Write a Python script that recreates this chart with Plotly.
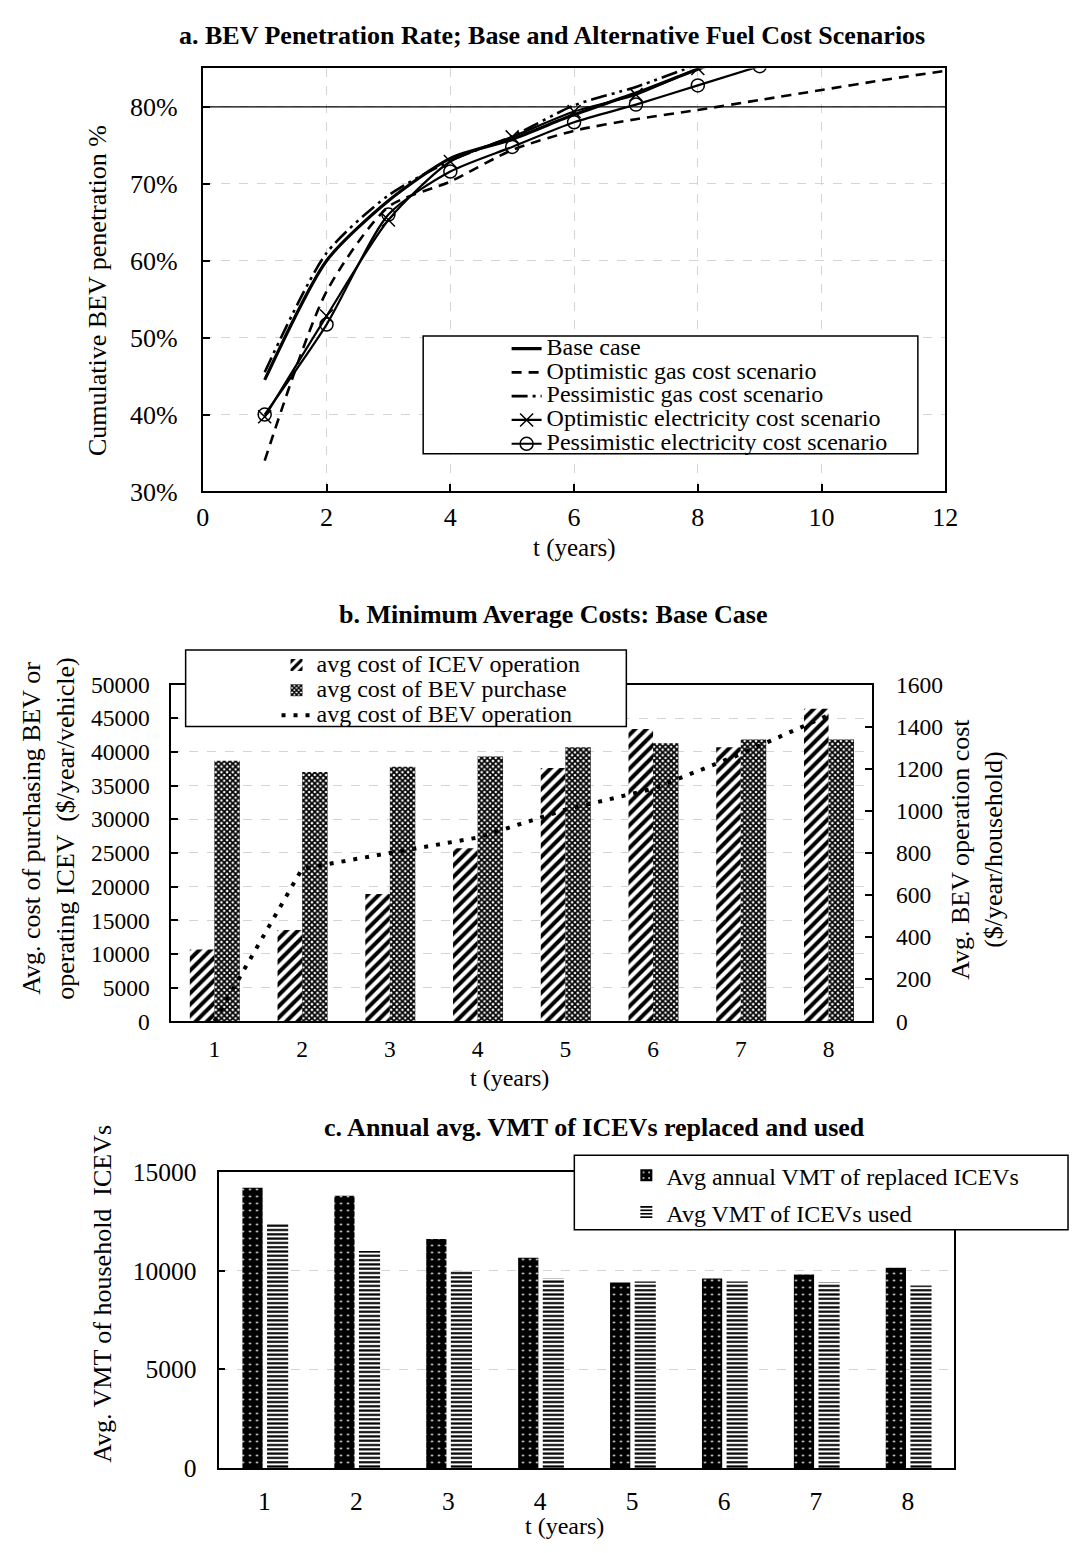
import plotly.graph_objects as go

W, H = 1083, 1553
FONT = "Liberation Serif, Times New Roman, serif"

# ---------------- data ----------------
# Panel a: cumulative BEV penetration (%)
t_a = [1, 2, 3, 4, 5, 6, 7, 8, 9]
t_a_long = [1, 2, 3, 4, 5, 6, 7, 8, 9, 10, 11, 12]
base_case = [44.5, 60.0, 67.8, 73.3, 75.8, 79.0, 81.8, 84.9, 87.8]
opt_gas = [34.0, 56.0, 67.0, 70.3, 74.4, 76.9, 78.4, 79.6, 80.9, 82.2, 83.5, 84.7]
pess_gas = [45.5, 61.0, 68.5, 73.0, 76.2, 80.2, 82.6, 85.5, 88.0]
opt_elec = [39.7, 52.8, 65.3, 72.9, 76.1, 79.4, 81.6, 85.0, 88.0]
pess_elec = [40.0, 51.7, 66.0, 71.6, 74.8, 78.0, 80.3, 82.8, 85.3]
a_xticks = [0, 2, 4, 6, 8, 10, 12]
a_yticks = [30, 40, 50, 60, 70, 80]
a_yticktext = ["30%", "40%", "50%", "60%", "70%", "80%"]

# Panel b: minimum average costs
t_b = [1, 2, 3, 4, 5, 6, 7, 8]
icev_operation = [10650, 13550, 18900, 25700, 37600, 43400, 40700, 46400]
bev_purchase = [38700, 37000, 37800, 39300, 40700, 41300, 41850, 41850]
bev_operation = [0, 725, 800, 873, 1005, 1105, 1270, 1455]
b_yticks = [0, 5000, 10000, 15000, 20000, 25000, 30000, 35000, 40000, 45000, 50000]
b_yticktext = ["0", "5000", "10000", "15000", "20000", "25000", "30000", "35000", "40000", "45000", "50000"]
b_y2ticks = [0, 200, 400, 600, 800, 1000, 1200, 1400, 1600]
b_y2ticktext = ["0", "200", "400", "600", "800", "1000", "1200", "1400", "1600"]

# Panel c: annual avg VMT
t_c = [1, 2, 3, 4, 5, 6, 7, 8]
vmt_replaced = [14200, 13800, 11600, 10650, 9400, 9600, 9800, 10150]
vmt_used = [12420, 11000, 10000, 9600, 9450, 9450, 9400, 9250]
c_yticks = [0, 5000, 10000, 15000]
c_yticktext = ["0", "5000", "10000", "15000"]
cat_ticktext = ["1", "2", "3", "4", "5", "6", "7", "8"]


def px(xp):
    return xp / W


def py(yp):
    return 1 - yp / H


def lbl(s, size=24):
    return '<span style="font-size:%dpx">%s</span>' % (size, s)


fig = go.Figure()

# ---------------- panel a ----------------
smooth = dict(shape="spline", smoothing=0.7)
fig.add_trace(go.Scatter(x=t_a, y=base_case, mode="lines", name=lbl("Base case"),
                         line=dict(color="black", width=3.2, **smooth), legend="legend",
                         xaxis="x", yaxis="y"))
fig.add_trace(go.Scatter(x=t_a_long, y=opt_gas, mode="lines", name=lbl("Optimistic gas cost scenario"),
                         line=dict(color="black", width=2.6, dash="10px,7px", **smooth), legend="legend",
                         xaxis="x", yaxis="y"))
fig.add_trace(go.Scatter(x=t_a, y=pess_gas, mode="lines", name=lbl("Pessimistic gas cost scenario"),
                         line=dict(color="black", width=2.6, dash="16px,5px,3px,5px,3px,5px", **smooth),
                         legend="legend", xaxis="x", yaxis="y"))
fig.add_trace(go.Scatter(x=t_a, y=opt_elec, mode="lines+markers",
                         name=lbl("Optimistic electricity cost scenario"),
                         line=dict(color="black", width=2.2, **smooth),
                         marker=dict(symbol="x-thin-open", size=13, color="black",
                                     line=dict(color="black", width=1.5)),
                         legend="legend", xaxis="x", yaxis="y"))
fig.add_trace(go.Scatter(x=t_a, y=pess_elec, mode="lines+markers",
                         name=lbl("Pessimistic electricity cost scenario"),
                         line=dict(color="black", width=2.2, **smooth),
                         marker=dict(symbol="circle-open", size=13, color="black",
                                     line=dict(color="black", width=1.5)),
                         legend="legend", xaxis="x", yaxis="y"))

# ---------------- panel b ----------------
fig.add_trace(go.Bar(x=t_b, y=icev_operation, name=lbl("avg cost of ICEV operation"),
                     width=0.28, offset=-0.28,
                     marker=dict(color="black", line=dict(width=0),
                                 pattern=dict(shape="/", fgcolor="black", bgcolor="white",
                                              size=8, solidity=0.5, fillmode="replace")),
                     legend="legend2", xaxis="x2", yaxis="y2"))
fig.add_trace(go.Bar(x=t_b, y=bev_purchase, name=lbl("avg cost of BEV purchase"),
                     width=0.29, offset=0.0,
                     marker=dict(color="black", line=dict(width=0),
                                 pattern=dict(shape="x", fgcolor="black", bgcolor="white",
                                              size=4, solidity=0.7, fillmode="replace")),
                     legend="legend2", xaxis="x2", yaxis="y2"))
fig.add_trace(go.Scatter(x=t_b, y=bev_operation, mode="lines", name=lbl("avg cost of BEV operation"),
                         line=dict(color="black", width=4, dash="4px,8px"),
                         legend="legend2", xaxis="x2", yaxis="y3"))

# ---------------- panel c ----------------
fig.add_trace(go.Bar(x=t_c, y=vmt_replaced, name=lbl("Avg annual VMT of replaced ICEVs"),
                     width=0.22, offset=-0.24,
                     marker=dict(color="black", line=dict(width=0),
                                 pattern=dict(shape=".", fgcolor="white", bgcolor="black",
                                              size=7, solidity=0.07, fillmode="replace")),
                     legend="legend3", xaxis="x3", yaxis="y4"))
fig.add_trace(go.Bar(x=t_c, y=vmt_used, name=lbl("Avg VMT of ICEVs used"),
                     width=0.23, offset=0.028,
                     marker=dict(color="black", line=dict(width=0),
                                 pattern=dict(shape="-", fgcolor="black", bgcolor="white",
                                              size=4.3, solidity=0.5, fillmode="replace")),
                     legend="legend3", xaxis="x3", yaxis="y4"))

grid = dict(showgrid=True, gridcolor="#d4d4d4", gridwidth=1, griddash="dash")
frame = dict(showline=True, linecolor="black", linewidth=2, mirror=True, zeroline=False)
font_axis = lambda s: dict(family=FONT, size=s, color="black")

fig.update_layout(
    width=W, height=H, autosize=False,
    margin=dict(l=0, r=0, t=0, b=0),
    paper_bgcolor="white", plot_bgcolor="white",
    font=dict(family=FONT, color="black"),
    barmode="overlay",
    xaxis=dict(domain=[px(199.5), px(956)], anchor="y", range=[0, 12],
               tickvals=a_xticks, ticks="inside", ticklen=7, tickwidth=1.5, tickcolor="black",
               tickfont=font_axis(26), ticklabelstandoff=1, **grid, **frame),
    yaxis=dict(domain=[py(486.5), py(55.5)], anchor="x", range=[30, 85],
               tickvals=a_yticks, ticktext=a_yticktext, ticks="inside", ticklen=7, tickwidth=1.5,
               tickcolor="black", tickfont=font_axis(26), ticklabelstandoff=18, **grid, **frame),
    xaxis2=dict(domain=[px(166.6), px(881.7)], anchor="y2", range=[0.5, 8.5],
                tickvals=t_b, ticktext=cat_ticktext, ticks="", showgrid=False,
                tickfont=font_axis(23.5), ticklabelstandoff=5, **frame),
    yaxis2=dict(domain=[py(1026.5), py(683.3)], anchor="x2", range=[0, 50000],
                tickvals=b_yticks, ticktext=b_yticktext, ticks="inside", ticklen=7, tickwidth=1.5,
                tickcolor="black", tickfont=font_axis(23.5), ticklabelstandoff=14, **grid,
                showline=True, linecolor="black", linewidth=2, zeroline=False),
    yaxis3=dict(overlaying="y2", side="right", anchor="x2", range=[0, 1600],
                tickvals=b_y2ticks, ticktext=b_y2ticktext, ticks="inside", ticklen=7, tickwidth=1.5,
                tickcolor="black", tickfont=font_axis(23.5), ticklabelstandoff=17, showgrid=False,
                showline=True, linecolor="black", linewidth=2, zeroline=False),
    xaxis3=dict(domain=[px(215.5), px(964.6)], anchor="y4", range=[0.5, 8.5],
                tickvals=t_c, ticktext=cat_ticktext, ticks="", showgrid=False,
                tickfont=font_axis(25.5), ticklabelstandoff=9, **frame),
    yaxis4=dict(domain=[py(1481.7), py(1180)], anchor="x3", range=[0, 15000],
                tickvals=c_yticks, ticktext=c_yticktext, ticks="inside", ticklen=6, tickwidth=1.5,
                tickcolor="black", tickfont=font_axis(25.5), ticklabelstandoff=15, **grid, **frame),
    legend=dict(x=px(509), y=py(323.7), xanchor="left", yanchor="top",
                bgcolor="rgba(0,0,0,0)", borderwidth=0, font=dict(family=FONT, size=16, color="black")),
    legend2=dict(x=px(274.6), y=py(645.6), xanchor="left", yanchor="top",
                 bgcolor="rgba(0,0,0,0)", borderwidth=0, font=dict(family=FONT, size=17, color="black")),
    legend3=dict(x=px(631), y=py(1159.5), xanchor="left", yanchor="top",
                 bgcolor="rgba(0,0,0,0)", borderwidth=0, font=dict(family=FONT, size=26, color="black")),
    showlegend=True,
)

# reference line at 80% and legend frames
fig.add_shape(type="line", xref="x domain", x0=0, x1=1, yref="y", y0=80, y1=80,
              line=dict(color="black", width=1.3), layer="above")
for (x0, y0, x1, y1) in [(424, 328, 928, 448), (182, 648, 631, 726), (578, 1163, 1081, 1239)]:
    fig.add_shape(type="rect", xref="paper", yref="paper", x0=px(x0), x1=px(x1), y0=py(y1), y1=py(y0),
                  fillcolor="white", line=dict(color="black", width=1.5), layer="above")


# titles and axis titles
def ann(text, x, y, size, angle=0, bold=False):
    if bold:
        text = "<b>%s</b>" % text
    fig.add_annotation(text=text, x=px(x), y=py(y), xref="paper", yref="paper",
                       xanchor="center", yanchor="middle", showarrow=False, textangle=angle,
                       font=dict(family=FONT, size=size, color="black"))


ann("a. BEV Penetration Rate; Base and Alternative Fuel Cost Scenarios", 555, 22, 26, bold=True)
ann("Cumulative BEV penetration %", 92, 282, 26, angle=-90)
ann("t (years)", 578, 544, 25)

ann("b. Minimum Average Costs: Base Case", 556, 612, 26, bold=True)
ann("Avg. cost of purchasing BEV or<br>operating ICEV  ($/year/vehicle)", 42, 830, 26, angle=-90)
ann("Avg. BEV operation cost<br>($/year/household)", 988, 851, 26, angle=-90)
ann("t (years)", 512, 1084, 24)

ann("c. Annual avg. VMT of ICEVs replaced and used", 599, 1135, 26, bold=True)
ann("Avg. VMT of household  ICEVs", 97, 1304, 26, angle=-90)
ann("t (years)", 568, 1541, 24)

fig.write_html("out.html")
